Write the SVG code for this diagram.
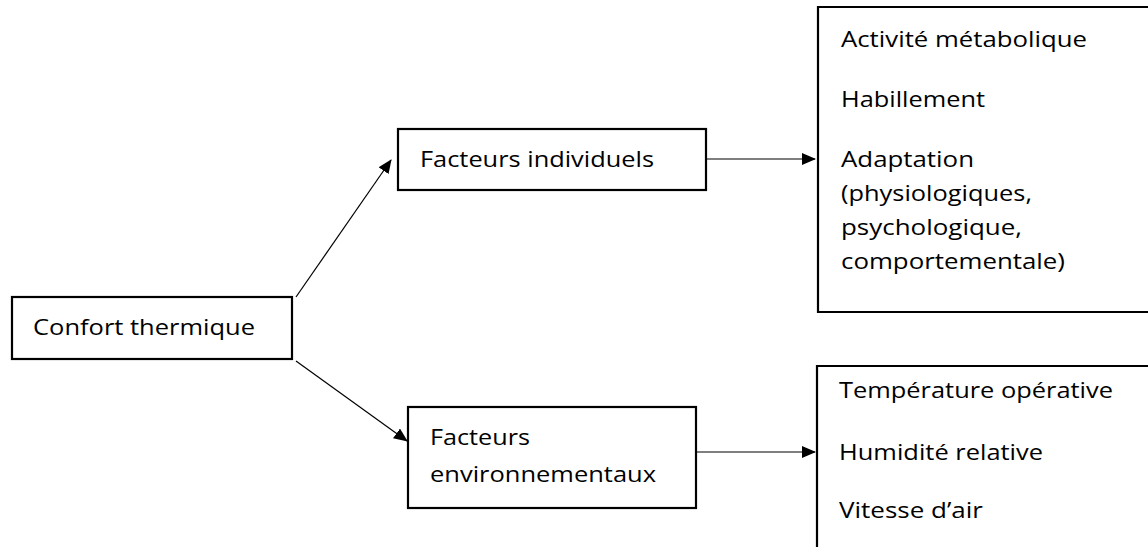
<svg xmlns="http://www.w3.org/2000/svg" width="1148" height="547" viewBox="0 0 1148 547">
<defs>
<marker id="ah" markerWidth="14" markerHeight="12" refX="13" refY="6" orient="auto" markerUnits="userSpaceOnUse">
<path d="M0,0 L14,6 L0,12 Z" fill="#000"/>
</marker>
<style>
.box{fill:#fff;stroke:#000;stroke-width:2.2}
.t{font-family:"Open Sans","Noto Sans",sans-serif;font-size:21px;fill:#000}
.c{stroke:#000;stroke-width:1.2;fill:none}
</style>
</defs>
<rect width="1148" height="547" fill="#fff"/>
<g id="connectors">
<line class="c" x1="296" y1="297" x2="391" y2="160" marker-end="url(#ah)"/>
<line class="c" x1="296" y1="361" x2="407" y2="441" marker-end="url(#ah)"/>
<line class="c" x1="706" y1="159" x2="815" y2="159" marker-end="url(#ah)"/>
<line class="c" x1="697" y1="452" x2="815" y2="452" marker-end="url(#ah)"/>
</g>
<g id="confort">
<rect class="box" x="12" y="297" width="280" height="62"/>
<text class="t" x="33" y="335" textLength="222" lengthAdjust="spacingAndGlyphs">Confort thermique</text>
</g>
<g id="individuels">
<rect class="box" x="398" y="129" width="308" height="61"/>
<text class="t" x="420" y="167" textLength="234" lengthAdjust="spacingAndGlyphs">Facteurs individuels</text>
</g>
<g id="environnementaux">
<rect class="box" x="408" y="407" width="288" height="101"/>
<text class="t" x="430" y="445" textLength="100" lengthAdjust="spacingAndGlyphs">Facteurs</text>
<text class="t" x="430" y="482" textLength="226" lengthAdjust="spacingAndGlyphs">environnementaux</text>
</g>
<g id="individuels-list">
<path class="box" d="M1150,7 H818 V312 H1150"/>
<text class="t" x="841" y="47" textLength="246" lengthAdjust="spacingAndGlyphs">Activité métabolique</text>
<text class="t" x="841" y="107" textLength="144" lengthAdjust="spacingAndGlyphs">Habillement</text>
<text class="t" x="841" y="167" textLength="133" lengthAdjust="spacingAndGlyphs">Adaptation</text>
<text class="t" x="841" y="201" textLength="191" lengthAdjust="spacingAndGlyphs">(physiologiques,</text>
<text class="t" x="841" y="235" textLength="181" lengthAdjust="spacingAndGlyphs">psychologique,</text>
<text class="t" x="841" y="269" textLength="224" lengthAdjust="spacingAndGlyphs">comportementale)</text>
</g>
<g id="environnementaux-list">
<path class="box" d="M1150,366 H817 V550"/>
<text class="t" x="839" y="398" textLength="274" lengthAdjust="spacingAndGlyphs">Température opérative</text>
<text class="t" x="839" y="460" textLength="204" lengthAdjust="spacingAndGlyphs">Humidité relative</text>
<text class="t" x="839" y="518" textLength="144" lengthAdjust="spacingAndGlyphs">Vitesse d’air</text>
</g>
</svg>
